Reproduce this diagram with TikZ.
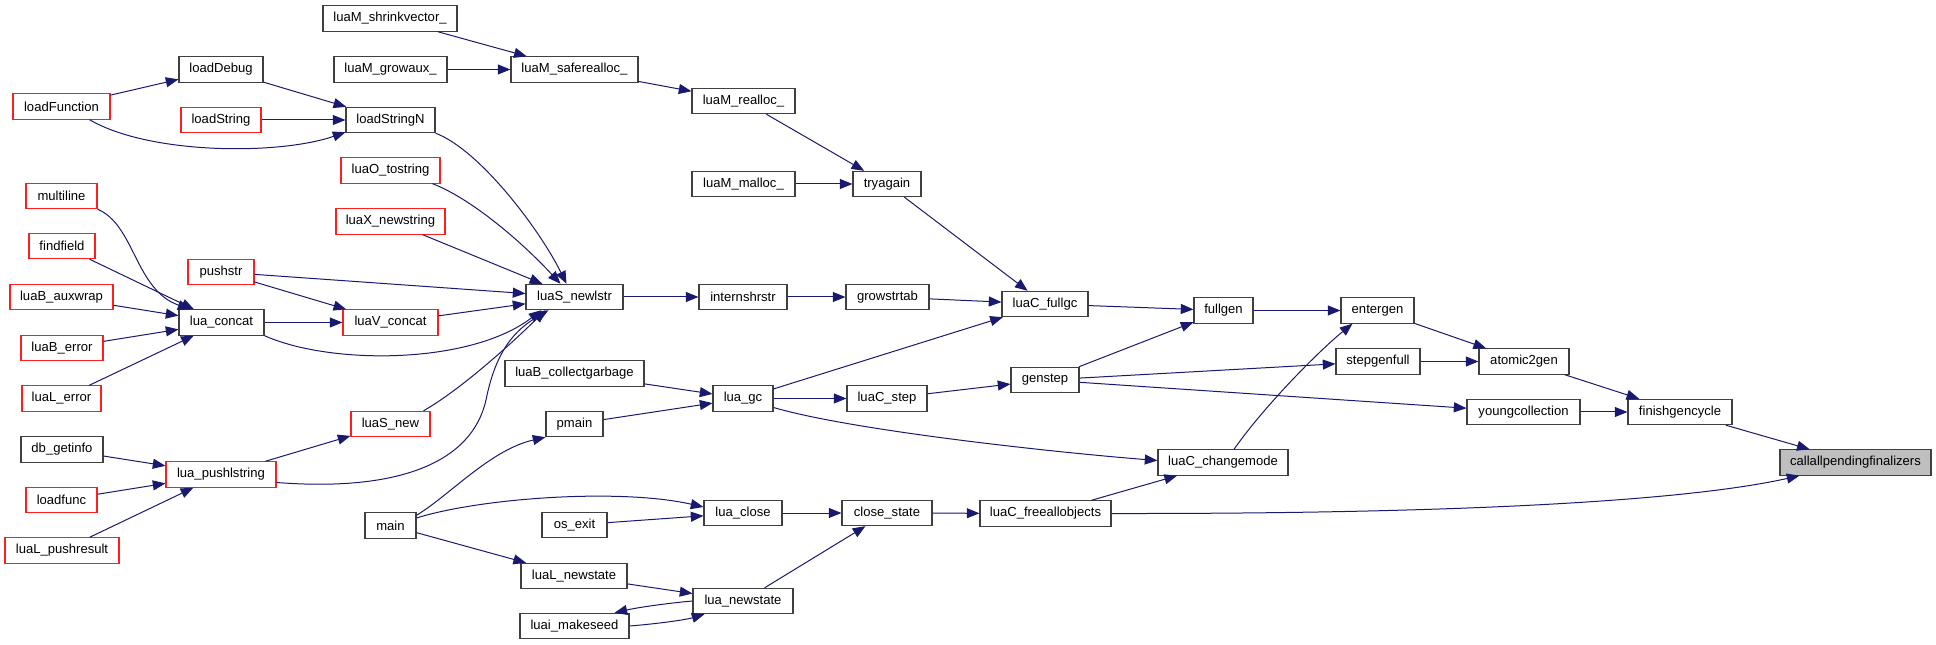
\documentclass[tikz,border=0pt]{standalone}
\usepackage{fontspec}
\setmainfont{Liberation Sans}
\usetikzlibrary{arrows.meta,calc}
\definecolor{edgeblue}{RGB}{25,25,112}
\definecolor{redline}{RGB}{255,30,30}
\definecolor{blkline}{RGB}{64,64,64}
\begin{document}
\begin{tikzpicture}[x=0.75pt,y=-0.75pt,
  blk/.style={draw=blkline,fill=white,line width=0.8pt,inner sep=0pt,minimum height=19pt,font=\fontsize{9.8}{11}\selectfont},
  redb/.style={blk,draw=redline},
  greyb/.style={blk,fill=black!25},
  edge/.style={draw=edgeblue,line width=0.75pt,-{Triangle[length=9.5pt,width=7.5pt]}}]
\useasboundingbox (0,0) rectangle (1936,645);
\newcommand\nb[6]{\node[#1,minimum width=#5*0.75pt] (#2) at (#3,#4) {#6};}
% column 1
\nb{redb}{loadFunction}{61.5}{106.5}{97}{loadFunction}
\nb{redb}{multiline}{61.5}{196}{71}{multiline}
\nb{redb}{findfield}{62}{246}{66}{findfield}
\nb{redb}{auxwrap}{61.5}{297}{103}{luaB\_auxwrap}
\nb{redb}{berror}{62}{348}{82}{luaB\_error}
\nb{redb}{lerror}{61.5}{398.5}{79}{luaL\_error}
\nb{blk}{getinfo}{62}{449.5}{82}{db\_getinfo}
\nb{redb}{loadfunc}{61.5}{500}{71}{loadfunc}
\nb{redb}{pushresult}{62}{550.5}{114}{luaL\_pushresult}
% column 2
\nb{blk}{loadDebug}{221}{69.5}{84}{loadDebug}
\nb{redb}{loadString}{221}{120}{80}{loadString}
\nb{redb}{pushstr}{221}{272}{66}{pushstr}
\nb{blk}{concat}{221.5}{322.5}{85}{lua\_concat}
\nb{redb}{pushlstring}{221}{474.5}{110}{lua\_pushlstring}
% column 3
\nb{blk}{shrink}{390}{18.5}{134}{luaM\_shrinkvector\_}
\nb{blk}{growaux}{390.5}{69.5}{113}{luaM\_growaux\_}
\nb{blk}{loadStringN}{390.5}{120}{89}{loadStringN}
\nb{redb}{tostring}{390.5}{170.5}{99}{luaO\_tostring}
\nb{redb}{newstring}{390.5}{221.5}{109}{luaX\_newstring}
\nb{redb}{vconcat}{390.5}{322.5}{95}{luaV\_concat}
\nb{redb}{snew}{390.5}{424}{79}{luaS\_new}
\nb{blk}{main}{390.5}{525.5}{51}{main}
% column 4
\nb{blk}{saferealloc}{574.5}{69.5}{127}{luaM\_saferealloc\_}
\nb{blk}{newlstr}{574.5}{297}{97}{luaS\_newlstr}
\nb{blk}{collect}{574.5}{373.5}{139}{luaB\_collectgarbage}
\nb{blk}{pmain}{574.5}{424}{57}{pmain}
\nb{blk}{osexit}{574.5}{525}{65}{os\_exit}
\nb{blk}{lnewstate}{574}{576}{106}{luaL\_newstate}
\nb{blk}{makeseed}{574.5}{626}{109}{luai\_makeseed}
% column 5
\nb{blk}{realloc}{743.5}{101}{103}{luaM\_realloc\_}
\nb{blk}{malloc}{743.5}{184}{103}{luaM\_malloc\_}
\nb{blk}{intern}{743}{297}{88}{internshrstr}
\nb{blk}{gc}{743}{398.5}{60}{lua\_gc}
\nb{blk}{close}{743}{513}{78}{lua\_close}
\nb{blk}{newstate}{743}{601}{100}{lua\_newstate}
% column 6
\nb{blk}{tryagain}{887}{184}{68}{tryagain}
\nb{blk}{growstrtab}{887.5}{297}{83}{growstrtab}
\nb{blk}{cstep}{887}{398.5}{80}{luaC\_step}
\nb{blk}{closestate}{887}{513}{90}{close\_state}
% column 7
\nb{blk}{fullgc}{1045}{304}{86}{luaC\_fullgc}
\nb{blk}{genstep}{1045}{380}{68}{genstep}
\nb{blk}{freeall}{1045.5}{513.5}{131}{luaC\_freeallobjects}
% column 8
\nb{blk}{fullgen}{1223.5}{310.5}{59}{fullgen}
\nb{blk}{changemode}{1223}{462.5}{130}{luaC\_changemode}
% column 9
\nb{blk}{entergen}{1377.5}{310.5}{73}{entergen}
\nb{blk}{stepgenfull}{1378}{361.5}{84}{stepgenfull}
% column 10
\nb{blk}{atomic}{1524}{361.5}{90}{atomic2gen}
\nb{blk}{young}{1523.5}{412}{113}{youngcollection}
% column 11
\nb{blk}{finish}{1680}{412}{104}{finishgencycle}
% column 12
\nb{greyb}{callall}{1855.5}{462.5}{151}{callallpendingfinalizers}

% edges
\draw[edge] (shrink) -- (saferealloc);
\draw[edge] (growaux) -- (saferealloc);
\draw[edge] (saferealloc) -- (realloc);
\draw[edge] (realloc) -- (tryagain);
\draw[edge] (malloc) -- (tryagain);
\draw[edge] (tryagain) -- (fullgc);
\draw[edge] (loadFunction) -- (loadDebug);
\draw[edge] ($(loadFunction.south)+(28,0)$) .. controls (150,155) and (280,155) .. ($(loadStringN.south west)+(0,-1)$);
\draw[edge] (loadDebug) -- (loadStringN);
\draw[edge] (loadString) -- (loadStringN);
\draw[edge] (loadStringN.south east) .. controls (480,150) and (540,230) .. ($(newlstr.north)+(-8,0)$);
\draw[edge] ($(tostring.south east)+(-8,0)$) .. controls (470,198) and (520,240) .. ($(newlstr.north)+(-14,0)$);
\draw[edge] (newstring) -- (newlstr);
\draw[edge] (pushstr) -- (newlstr);
\draw[edge] (pushstr) -- (vconcat);
\draw[edge] (vconcat) -- (newlstr);
\draw[edge] (concat) -- (vconcat);
\draw[edge] (concat.south east) .. controls (330,365) and (470,365) .. ($(newlstr.south west)+(16,0)$);
\draw[edge] (multiline.south east) .. controls (135,225) and (135,290) .. ($(concat.north west)+(12,0)$);
\draw[edge] (findfield) -- (concat);
\draw[edge] (auxwrap) -- (concat);
\draw[edge] (berror) -- (concat);
\draw[edge] (lerror) -- (concat);
\draw[edge] ($(snew.north)+(33,0)$) .. controls (460,390) and (510,345) .. ($(newlstr.south west)+(20,0)$);
\draw[edge] (pushlstring) -- (snew);
\draw[edge] ($(pushlstring.east)+(0,8)$) .. controls (400,492) and (472,462) .. (486,400) .. controls (496,350) and (515,330) .. ($(newlstr.south west)+(23,0)$);
\draw[edge] (getinfo) -- (pushlstring);
\draw[edge] (loadfunc) -- (pushlstring);
\draw[edge] (pushresult) -- (pushlstring);
\draw[edge] (newlstr) -- (intern);
\draw[edge] (intern) -- (growstrtab);
\draw[edge] (growstrtab) -- (fullgc);
\draw[edge] (gc) -- (fullgc);
\draw[edge] (collect) -- (gc);
\draw[edge] (pmain) -- (gc);
\draw[edge] (gc) -- (cstep);
\draw[edge] ($(gc.east)+(0,9)$) .. controls (850,430) and (1050,452) .. ($(changemode.west)+(0,-2)$);
\draw[edge] (cstep) -- (genstep);
\draw[edge] (fullgc) -- (fullgen);
\draw[edge] (genstep) -- (fullgen);
\draw[edge] (genstep) -- (stepgenfull);
\draw[edge] (genstep) -- (young);
\draw[edge] (fullgen) -- (entergen);
\draw[edge] ($(changemode.north)+(11,0)$) .. controls (1265,405) and (1320,350) .. ($(entergen.south west)+(12,0)$);
\draw[edge] (entergen) -- (atomic);
\draw[edge] (stepgenfull) -- (atomic);
\draw[edge] (atomic) -- (finish);
\draw[edge] (young) -- (finish);
\draw[edge] (finish) -- (callall);
\draw[edge] (freeall.east) .. controls (1500,514) and (1700,498) .. ($(callall.south west)+(20,0)$);
\draw[edge] (freeall) -- (changemode);
\draw[edge] (closestate) -- (freeall);
\draw[edge] (close) -- (closestate);
\draw[edge] (newstate) -- (closestate);
\draw[edge] ($(main.north east)+(0,3)$) .. controls (450,495) and (490,450) .. (pmain.south west);
\draw[edge] ($(main.east)+(0,-7.5)$) .. controls (480,498) and (620,488) .. ($(close.west)+(0,-6)$);
\draw[edge] (main) -- (lnewstate);
\draw[edge] (osexit) -- (close);
\draw[edge] (lnewstate) -- (newstate);
\draw[edge] (newstate.west) .. controls (670,603) and (640,607) .. ($(makeseed.north east)+(-15,0)$);
\draw[edge] (makeseed.east) .. controls (655,624) and (685,620) .. ($(newstate.south west)+(12,0)$);
\end{tikzpicture}
\end{document}
